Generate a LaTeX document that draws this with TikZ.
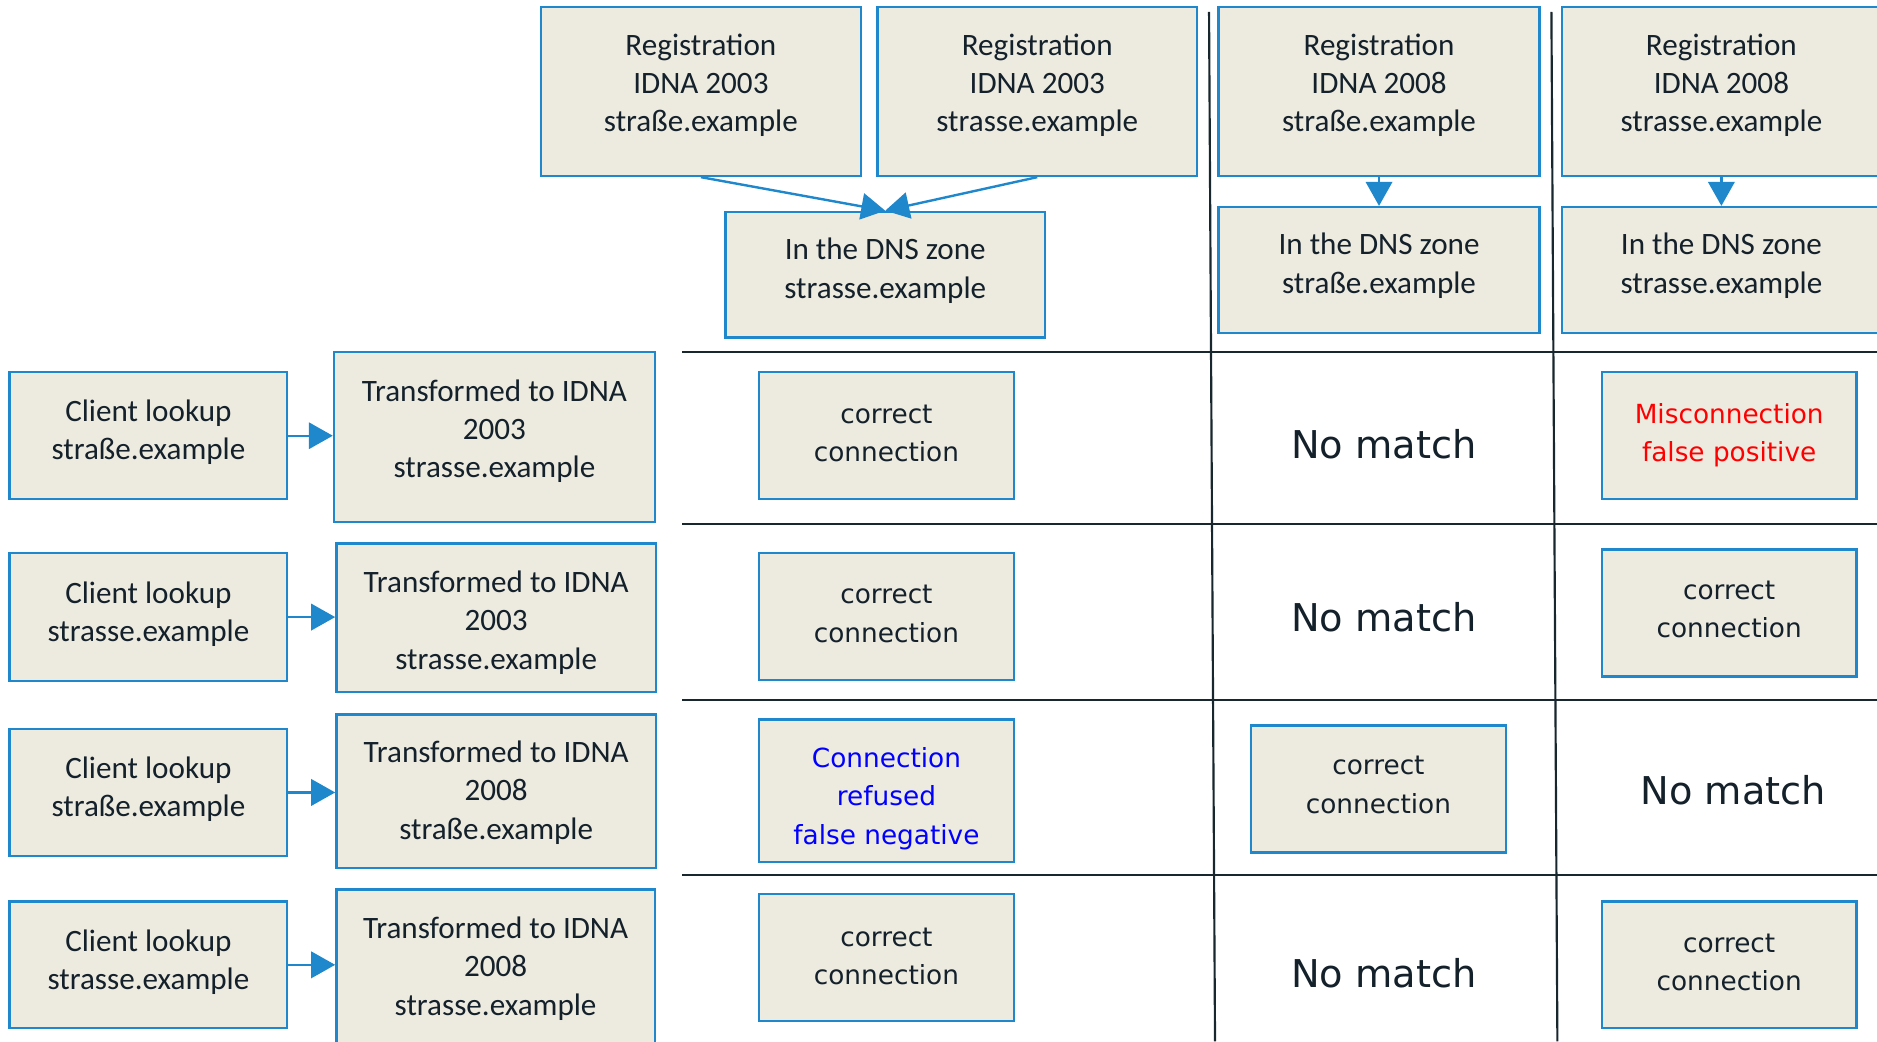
\documentclass[tikz,border=0pt]{standalone}
\usepackage{fontspec}
\setmainfont{Carlito}
\newfontfamily\calib{Carlito}
\newfontfamily\dvs{DejaVu Sans}
\usetikzlibrary{arrows.meta}
\definecolor{boxfill}{HTML}{EDEAE0}
\definecolor{boxblue}{HTML}{1F87CB}
\definecolor{txt}{HTML}{14212B}
\definecolor{gridc}{HTML}{18262E}
\tikzset{
  box/.style={draw=boxblue, fill=boxfill, line width=1pt, inner sep=0pt, align=center, text=txt, font=\calib\fontsize{13}{16}\selectfont},
  twol/.style={box, text height=24pt, text depth=#1},
  threel/.style={box, text height=40pt, text depth=#1},
  rbox/.style={box, font=\dvs\fontsize{11}{16}\selectfont, text height=24pt, text depth=#1},
  rbox/.default=2.6pt,
  nomatch/.style={text=txt, font=\dvs\fontsize{16}{19}\selectfont, inner sep=0pt},
  arr/.style={draw=boxblue, line width=1pt, -{Triangle[length=10pt, width=11pt]}},
  gridline/.style={draw=gridc, line width=0.9pt}
}
\begin{document}
\begin{tikzpicture}[x=0.5pt, y=-0.5pt]
\useasboundingbox (0,0) rectangle (1568,870);
% grid
\draw[gridline] (1010,10) coordinate (v1a) -- (1015,870) coordinate (v1b);
\draw[gridline] (1296,10) coordinate (v2a) -- (1301,870) coordinate (v2b);
\foreach \yy in {294,438,585,731} \draw[gridline] (570,\yy) -- (1570,\yy);
% top row
\node[threel=6.5pt, minimum width=133.5pt, minimum height=70.5pt] (R1) at (585.5,76.5) {Registration\\IDNA 2003\\straße.example};
\node[threel=6.5pt, minimum width=133.5pt, minimum height=70.5pt] (R2) at (866.5,76.5) {Registration\\IDNA 2003\\strasse.example};
\node[threel=6.5pt, minimum width=134pt, minimum height=70.5pt] (R3) at (1152,76.5) {Registration\\IDNA 2008\\straße.example};
\node[threel=6.5pt, minimum width=133pt, minimum height=70.5pt] (R4) at (1438,76.5) {Registration\\IDNA 2008\\strasse.example};
\node[twol=4.5pt, minimum width=133.5pt, minimum height=52.5pt] (D1) at (739.5,229.5) {In the DNS zone\\strasse.example};
\node[twol=4.5pt, minimum width=134pt, minimum height=52.5pt] (D2) at (1152,225.5) {In the DNS zone\\straße.example};
\node[twol=4.5pt, minimum width=133pt, minimum height=52.5pt] (D3) at (1438,225.5) {In the DNS zone\\strasse.example};
\draw[arr] (R1.south) -- (D1.north);
\draw[arr] (R2.south) -- (D1.north);
\draw[arr] (R3.south) -- (D2.north);
\draw[arr] (R4.south) -- (D3.north);
% left column
\node[twol=4pt, minimum width=116pt, minimum height=53pt] (C1) at (124,364) {Client lookup\\straße.example};
\node[threel=6pt, minimum width=134pt, minimum height=71pt] (T1) at (413,365) {Transformed to IDNA\\2003\\strasse.example};
\node[twol=3.5pt, minimum width=116pt, minimum height=53.5pt] (C2) at (124,515.5) {Client lookup\\strasse.example};
\node[box, text height=43pt, text depth=0pt, minimum width=133.5pt, minimum height=62pt] (T2) at (414.5,516) {Transformed to IDNA\\2003\\strasse.example};
\node[twol=4pt, minimum width=116pt, minimum height=53pt] (C3) at (124,662) {Client lookup\\straße.example};
\node[threel=0pt, minimum width=133.5pt, minimum height=64pt] (T3) at (414.5,661) {Transformed to IDNA\\2008\\straße.example};
\node[twol=3.5pt, minimum width=116pt, minimum height=53pt] (C4) at (124,806) {Client lookup\\strasse.example};
\node[threel=6pt, minimum width=133pt, minimum height=71pt] (T4) at (414,814) {Transformed to IDNA\\2008\\strasse.example};
\draw[arr] (C1.east) -- (C1.east -| T1.west);
\draw[arr] (C2.east) -- (C2.east -| T2.west);
\draw[arr] (C3.east) -- (C3.east -| T3.west);
\draw[arr] (C4.east) -- (C4.east -| T4.west);
% results col 1
\node[rbox, minimum width=106.5pt, minimum height=53pt] (A1) at (740.5,364) {correct\\connection};
\node[rbox, minimum width=106.5pt, minimum height=53pt] (A2) at (740.5,515) {correct\\connection};
\node[rbox, text height=48pt, text depth=3.2pt, minimum width=106.5pt, minimum height=59.5pt, text=blue] (A3) at (740.5,660.5) {Connection\\refused\\false negative};
\node[rbox=1.6pt, minimum width=106.5pt, minimum height=53pt] (A4) at (740.5,800) {correct\\connection};
% results col 2
\node[nomatch] (N1) at (1156,371) {No match};
\node[nomatch] (N2) at (1156,516) {No match};
\node[rbox=3.6pt, minimum width=106.5pt, minimum height=53pt] (B3) at (1151.5,659) {correct\\connection};
\node[nomatch] (N4) at (1156,813) {No match};
% results col 3
\node[rbox, minimum width=106.5pt, minimum height=53pt, text=red] (E1) at (1444.5,364) {Misconnection\\false positive};
\node[rbox=3.6pt, minimum width=106.5pt, minimum height=53pt] (E2) at (1444.5,512) {correct\\connection};
\node[nomatch] (N3) at (1448,660) {No match};
\node[rbox, minimum width=106.5pt, minimum height=53pt] (E4) at (1444.5,806) {correct\\connection};
\end{tikzpicture}
\end{document}
